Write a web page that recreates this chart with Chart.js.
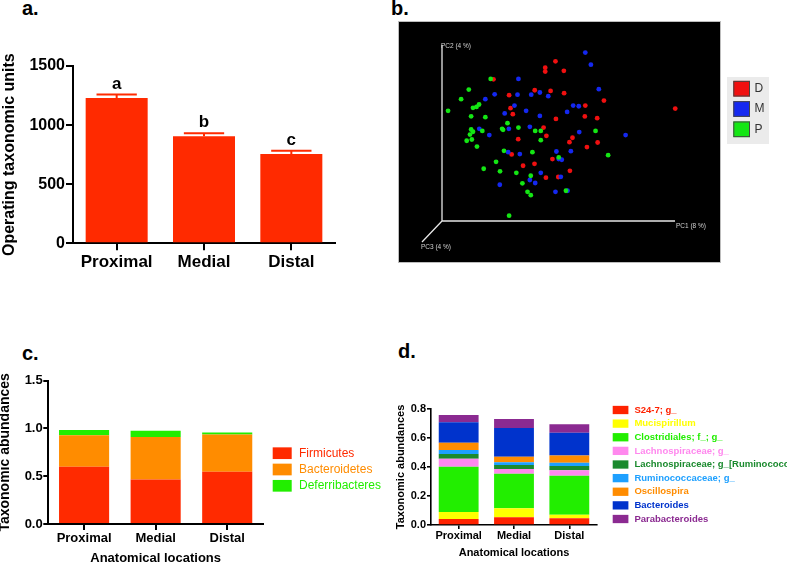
<!DOCTYPE html>
<html>
<head>
<meta charset="utf-8">
<script src="https://cdn.jsdelivr.net/npm/chart.js@4/dist/chart.umd.min.js"></script>
<style>
  html, body { margin:0; padding:0; background:#fff; }
  body { width:787px; height:565px; position:relative; overflow:hidden; font-family:'Liberation Sans', Arial, Helvetica, sans-serif; }
  canvas { position:absolute; }
  .plabel { position:absolute; font-weight:bold; font-size:20px; line-height:20px; color:#000; }
  #bbox { position:absolute; left:398px; top:21px; width:321px; height:240px; background:#000; border:1px solid #bdbdbd; }
</style>
</head>
<body>
<div class="plabel" style="left:22px;top:-2px">a.</div>
<div class="plabel" style="left:391px;top:-2px">b.</div>
<div class="plabel" style="left:22px;top:343px">c.</div>
<div class="plabel" style="left:398px;top:341px">d.</div>
<div id="bbox"></div>
<canvas id="ca" width="345" height="280" style="left:0;top:0"></canvas>
<canvas id="cb" width="389" height="245" style="left:398px;top:20px"></canvas>
<canvas id="cc" width="400" height="225" style="left:0;top:340px"></canvas>
<canvas id="cd" width="392" height="185" style="left:395px;top:380px"></canvas>
<script>
// ---------------- DATA ----------------
const locations = ['Proximal', 'Medial', 'Distal'];

// panel a: OTUs
const otuMeans = [1230, 905, 755];
const otuSem = [28, 25, 27];
const otuLetters = ['a', 'b', 'c'];

// panel b: PCoA (PC1, PC2 coordinates, arbitrary units 0-100 along drawn axes)
const pcoaGroups = ['D', 'M', 'P'];
const dPc1 = [48.7,44.3,44.3,52.3,22.1,39.8,46.6,52.4,28.8,69.5,61.5,29.4,30.4,48.9,61.3,66.6,43.6,44.8,56.0,54.7,66.8,32.7,62.2,29.9,47.4,34.8,39.7,54.9,44.6,49.9,100.1];
const dPc2 = [90.7,87.1,84.9,85.3,80.5,74.3,73.9,72.6,71.5,68.4,65.6,64.1,60.7,58.0,59.4,58.4,53.1,48.4,47.3,44.8,44.6,46.5,42.0,37.8,35.2,31.4,32.5,28.5,24.6,25.0,63.9];
const mPc1 = [61.5,63.9,32.8,67.3,22.6,32.4,38.3,42.0,45.6,18.6,56.3,58.7,31.1,36.1,26.9,42.0,53.7,37.7,28.7,16.0,20.3,58.9,78.8,49.1,55.3,33.4,28.4,51.4,50.1,42.4,37.7,40.0,24.8,51.0,48.7,53.9];
const mPc2 = [95.7,88.8,80.7,74.9,72.0,71.8,71.8,73.0,70.9,69.2,65.6,65.2,65.6,62.6,61.1,59.7,62.0,53.5,52.4,52.4,48.8,50.5,48.8,39.5,39.7,38.0,39.1,34.8,35.2,27.4,23.3,21.6,20.6,25.1,16.6,17.2];
const pPc1 = [20.9,11.5,8.2,2.6,15.9,14.8,13.3,12.5,18.6,28.1,32.8,25.8,26.2,12.5,13.3,12.0,17.3,12.8,10.6,15.0,40.0,42.4,42.4,65.9,71.3,26.6,38.8,23.2,17.9,24.9,31.9,38.1,34.5,36.7,38.1,53.2,50.1,28.8];
const pPc2 = [80.7,74.7,69.2,62.6,66.2,64.8,64.3,59.5,59.0,55.6,53.1,52.4,51.8,52.0,50.7,49.1,51.2,46.3,45.6,42.3,51.2,51.2,45.9,51.2,37.4,39.9,39.1,33.6,29.7,28.2,27.4,25.7,21.4,16.6,14.7,17.2,36.1,3.0];
const pcAxisLabels = ['PC1 (8 %)', 'PC2 (4 %)', 'PC3 (4 %)'];

// panel c: phyla
const phylumNames = ['Firmicutes', 'Bacteroidetes', 'Deferribacteres'];
const firmicutes = [0.600, 0.467, 0.548];
const bacteroidetes = [0.328, 0.443, 0.390];
const deferribacteres = [0.056, 0.067, 0.021];

// panel d: genera
const genusNames = ['S24-7; g_', 'Mucispirillum', 'Clostridiales; f_; g_', 'Lachnospiraceae; g_',
  'Lachnospiraceae; g_[Ruminococcus]', 'Ruminococcaceae; g_', 'Oscillospira', 'Bacteroides', 'Parabacteroides'];
const s24_7 = [0.041, 0.053, 0.046];
const mucispirillum = [0.049, 0.062, 0.025];
const clostridiales = [0.312, 0.239, 0.269];
const lachnospiraceae = [0.055, 0.032, 0.037];
const lachnoRuminococcus = [0.033, 0.028, 0.030];
const ruminococcaceae = [0.027, 0.018, 0.023];
const oscillospira = [0.051, 0.039, 0.050];
const bacteroides = [0.140, 0.198, 0.157];
const parabacteroides = [0.051, 0.062, 0.057];

// ---------------- SETUP ----------------
const FONT = "'Liberation Sans', Arial, Helvetica, sans-serif";
Chart.defaults.font.family = FONT;
Chart.defaults.color = '#000';
Chart.defaults.animation = false;

const boxLegend = {
  id: 'boxLegend',
  afterDraw(chart, args, o) {
    if (!o || !o.show) return;
    const ctx = chart.ctx;
    ctx.save();
    if (o.panel) {
      ctx.fillStyle = o.panel.color;
      ctx.fillRect(o.panel.x, o.panel.y, o.panel.w, o.panel.h);
    }
    ctx.font = o.font;
    ctx.textBaseline = 'middle';
    ctx.textAlign = 'left';
    chart.data.datasets.forEach((ds, i) => {
      const cy = o.y + i * o.rowH;
      ctx.fillStyle = ds.backgroundColor;
      ctx.fillRect(o.x, cy - o.boxH / 2, o.boxW, o.boxH);
      if (o.boxBorder) {
        ctx.strokeStyle = o.boxBorder; ctx.lineWidth = 1;
        ctx.strokeRect(o.x + 0.5, cy - o.boxH / 2 + 0.5, o.boxW - 1, o.boxH - 1);
      }
      ctx.fillStyle = o.textColor || ds.labelColor || ds.backgroundColor;
      ctx.fillText(ds.label, o.x + o.boxW + o.gap, cy + (o.dy || 0));
    });
    ctx.restore();
  }
};

const errorBars = {
  id: 'errorBars',
  afterDatasetsDraw(chart, args, o) {
    if (!o || !o.show) return;
    const ds = chart.data.datasets[0];
    const meta = chart.getDatasetMeta(0);
    const ys = chart.scales.y;
    const ctx = chart.ctx;
    ctx.save();
    ctx.strokeStyle = o.color; ctx.lineWidth = o.lineWidth;
    ctx.fillStyle = '#000';
    ctx.font = o.font; ctx.textAlign = 'center'; ctx.textBaseline = 'alphabetic';
    meta.data.forEach((bar, i) => {
      const v = ds.data[i], e = ds.errors[i];
      const yTop = ys.getPixelForValue(v + e);
      const yV = ys.getPixelForValue(v);
      const half = bar.width * o.capRatio / 2;
      ctx.beginPath();
      ctx.moveTo(bar.x, yV); ctx.lineTo(bar.x, yTop);
      ctx.moveTo(bar.x - half, yTop); ctx.lineTo(bar.x + half, yTop);
      ctx.stroke();
      ctx.fillText(ds.letters[i], bar.x, yTop - o.letterGap);
    });
    ctx.restore();
  }
};

const pcaAxes = {
  id: 'pcaAxes',
  beforeDatasetsDraw(chart, args, o) {
    if (!o || !o.show) return;
    const xs = chart.scales.x, ys = chart.scales.y, ctx = chart.ctx;
    const x0 = xs.getPixelForValue(0), y0 = ys.getPixelForValue(0);
    const x1 = xs.getPixelForValue(100), y1 = ys.getPixelForValue(100);
    ctx.save();
    ctx.strokeStyle = o.color; ctx.lineWidth = o.lineWidth;
    ctx.beginPath();
    ctx.moveTo(x1, y0); ctx.lineTo(x0, y0); ctx.lineTo(x0, y1);
    ctx.moveTo(x0, y0); ctx.lineTo(x0 - o.pc3dx, y0 + o.pc3dy);
    ctx.stroke();
    ctx.fillStyle = o.textColor; ctx.font = o.font;
    ctx.textAlign = 'left'; ctx.textBaseline = 'middle';
    ctx.fillText(o.labels[0], x1 + 1, y0 + 5);
    ctx.fillText(o.labels[1], x0 - 1, y1 + 1.5);
    ctx.fillText(o.labels[2], x0 - o.pc3dx - 1, y0 + o.pc3dy + 5);
    ctx.restore();
  }
};
Chart.register(boxLegend, errorBars, pcaAxes);

function axisStyle(tickLen, lw) {
  return {
    grid: { display: true, drawOnChartArea: false, drawTicks: true, tickLength: tickLen, color: '#000', lineWidth: lw, offset: false },
    border: { display: true, color: '#000', width: lw }
  };
}
const bold = (s) => ({ family: FONT, size: s, weight: 'bold' });

// ---------------- PANEL A ----------------
new Chart(document.getElementById('ca'), {
  type: 'bar',
  data: {
    labels: locations,
    datasets: [{ data: otuMeans, errors: otuSem, letters: otuLetters, backgroundColor: '#ff2a00',
      barPercentage: 0.71, categoryPercentage: 1 }]
  },
  options: {
    responsive: false, devicePixelRatio: 1, events: [],
    layout: { padding: { top: 66, right: 10, left: 0, bottom: 0 } },
    scales: {
      x: Object.assign(axisStyle(7, 2), {
        offset: true,
        ticks: { font: bold(17), padding: 2, maxRotation: 0, color: '#000' },
        afterFit: s => { s.height = 36.7; }
      }),
      y: Object.assign(axisStyle(7, 2), {
        min: 0, max: 1500,
        ticks: { stepSize: 500, font: bold(16), padding: 1, color: '#000', callback: v => String(v) },
        title: { display: true, text: 'Operating taxonomic units', font: Object.assign(bold(16), { lineHeight: 1 }), padding: { top: 2, bottom: 0 }, color: '#000' },
        afterFit: s => { s.width = 73; }
      })
    },
    plugins: {
      legend: { display: false }, tooltip: { enabled: false },
      errorBars: { show: true, color: '#ff2a00', lineWidth: 2, capRatio: 0.65, letterGap: 6, font: 'bold 17px ' + FONT }
    }
  }
});

// ---------------- PANEL B ----------------
const pts = (xs, ys) => xs.map((x, i) => ({ x: x, y: ys[i] }));
new Chart(document.getElementById('cb'), {
  type: 'scatter',
  data: {
    datasets: [
      { label: pcoaGroups[0], data: pts(dPc1, dPc2), backgroundColor: '#f01010', labelColor: '#333', order: 2, clip: false },
      { label: pcoaGroups[1], data: pts(mPc1, mPc2), backgroundColor: '#1428f0', labelColor: '#333', order: 1, clip: false },
      { label: pcoaGroups[2], data: pts(pPc1, pPc2), backgroundColor: '#14e614', labelColor: '#333', order: 0, clip: false }
    ]
  },
  options: {
    responsive: false, devicePixelRatio: 1, events: [],
    layout: { padding: { left: 44, top: 25, right: 112, bottom: 44 } },
    scales: {
      x: { type: 'linear', min: 0, max: 100, display: false },
      y: { type: 'linear', min: 0, max: 100, display: false }
    },
    elements: { point: { radius: 2.4, borderWidth: 0, hoverRadius: 2.4 } },
    plugins: {
      legend: { display: false }, tooltip: { enabled: false },
      pcaAxes: { show: true, color: '#e6e6e6', lineWidth: 1.3, pc3dx: 20, pc3dy: 21, labels: pcAxisLabels,
        textColor: '#d0d0d0', font: '6.5px ' + FONT },
      boxLegend: { show: true, panel: { x: 329, y: 57, w: 42, h: 67, color: '#ebebeb' },
        x: 335.3, y: 68.7, rowH: 20.3, boxW: 16.7, boxH: 15.7, gap: 4.5, boxBorder: '#444',
        font: '12px ' + FONT, textColor: '#333' }
    }
  }
});

// ---------------- PANEL C ----------------
const phylumColors = ['#ff2a00', '#ff8c00', '#22ee00'];
new Chart(document.getElementById('cc'), {
  type: 'bar',
  data: {
    labels: locations,
    datasets: [firmicutes, bacteroidetes, deferribacteres].map((d, i) => ({
      label: phylumNames[i], data: d, backgroundColor: phylumColors[i], barPercentage: 0.7, categoryPercentage: 1
    }))
  },
  options: {
    responsive: false, devicePixelRatio: 1, events: [],
    layout: { padding: { top: 40.7, right: 137, left: 0, bottom: 0 } },
    scales: {
      x: Object.assign(axisStyle(6, 2), {
        stacked: true, offset: true,
        ticks: { font: bold(13), padding: 0.5, maxRotation: 0, color: '#000' },
        title: { display: true, text: 'Anatomical locations', font: Object.assign(bold(13), { lineHeight: 1 }), padding: { top: 0, bottom: 0 }, color: '#000' },
        afterFit: s => { s.height = 41; }
      }),
      y: Object.assign(axisStyle(5, 2), {
        stacked: true, min: 0, max: 1.5,
        ticks: { stepSize: 0.5, font: bold(13), padding: 0.6, color: '#000', callback: v => Number(v).toFixed(1) },
        title: { display: true, text: 'Taxonomic abundances', font: Object.assign(bold(14), { lineHeight: 1 }), padding: { top: -2, bottom: 0 }, color: '#000' },
        afterFit: s => { s.width = 48.3; }
      })
    },
    plugins: {
      legend: { display: false }, tooltip: { enabled: false },
      boxLegend: { show: true, x: 272.7, y: 113.2, rowH: 16.3, boxW: 19, boxH: 11.7, gap: 7.3, font: '12px ' + FONT }
    }
  }
});

// ---------------- PANEL D ----------------
const genusColors = ['#ff2200', '#ffff00', '#22ee00', '#ff88ee', '#1b8a2e', '#1ea0ff', '#ff8c00', '#0033cc', '#8b2a91'];
const genusSeries = [s24_7, mucispirillum, clostridiales, lachnospiraceae, lachnoRuminococcus, ruminococcaceae, oscillospira, bacteroides, parabacteroides];
new Chart(document.getElementById('cd'), {
  type: 'bar',
  data: {
    labels: locations,
    datasets: genusSeries.map((d, i) => ({
      label: genusNames[i], data: d, backgroundColor: genusColors[i], barPercentage: 0.72, categoryPercentage: 1
    }))
  },
  options: {
    responsive: false, devicePixelRatio: 1, events: [],
    layout: { padding: { top: 29, right: 190, left: 0, bottom: 0 } },
    scales: {
      x: Object.assign(axisStyle(4, 1.6), {
        stacked: true, offset: true,
        ticks: { font: bold(11), padding: 0, maxRotation: 0, color: '#000' },
        title: { display: true, text: 'Anatomical locations', font: Object.assign(bold(11), { lineHeight: 1 }), padding: { top: 0, bottom: 6.5 }, color: '#000' },
        afterFit: s => { s.height = 40; }
      }),
      y: Object.assign(axisStyle(4, 1.6), {
        stacked: true, min: 0, max: 0.8,
        ticks: { stepSize: 0.2, font: bold(11), padding: 1, color: '#000', callback: v => Number(v).toFixed(1) },
        title: { display: true, text: 'Taxonomic abundances', font: Object.assign(bold(11), { lineHeight: 1 }), padding: { top: 0, bottom: 0 }, color: '#000' },
        afterFit: s => { s.width = 36; }
      })
    },
    plugins: {
      legend: { display: false }, tooltip: { enabled: false },
      boxLegend: { show: true, x: 217.7, y: 30, rowH: 13.625, boxW: 15.7, boxH: 8.3, gap: 6, font: 'bold 9.5px ' + FONT }
    }
  }
});
</script>
</body>
</html>
